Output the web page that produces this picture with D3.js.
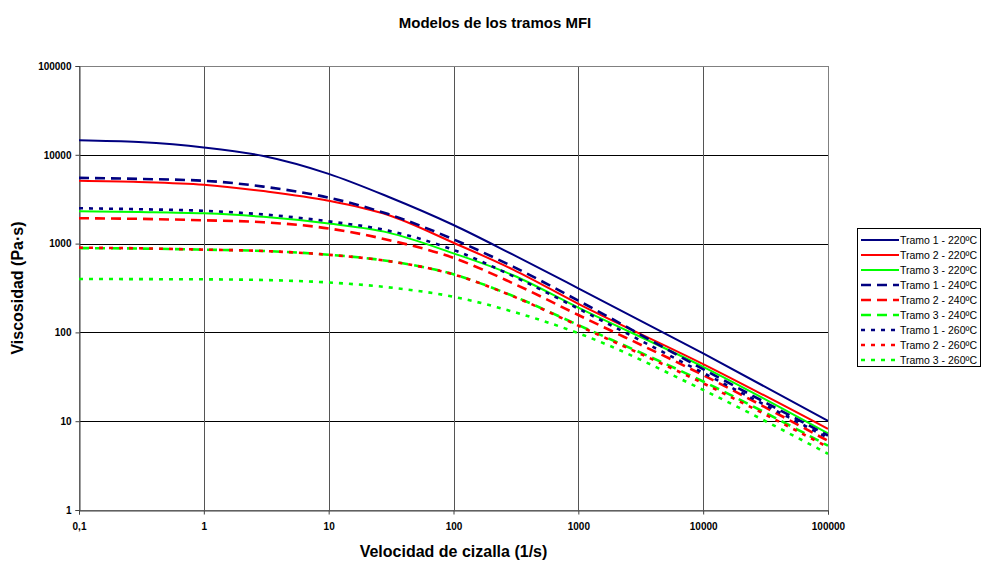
<!DOCTYPE html>
<html>
<head>
<meta charset="utf-8">
<script src="https://cdnjs.cloudflare.com/ajax/libs/d3/7.8.5/d3.min.js"></script>
<style>
    body { margin: 0; background: #fff; }
    text { font-family: "Liberation Sans", Arial, sans-serif; }
</style>
</head>
<body>
<div id="chart"></div>
<script>
var shearRates = [0.1, 0.3, 1, 3, 10, 30, 100, 300, 1000, 10000, 100000];

// viscosity (Pa·s) for each tramo / temperature
var tramo1_220 = [14600, 13900, 12100, 9700, 6100, 3370, 1620, 750, 314, 58, 10.1];
var tramo2_220 = [5100, 4950, 4600, 3900, 3040, 2100, 1023, 510, 210, 44, 8.2];
var tramo3_220 = [2310, 2270, 2190, 2000, 1680, 1330, 777, 440, 190, 41, 7.3];
var tramo1_240 = [5500, 5350, 5100, 4380, 3290, 2150, 1117, 550, 228, 38.5, 6.9];
var tramo2_240 = [1930, 1900, 1830, 1740, 1480, 1100, 690, 357, 157, 33, 6.0];
var tramo3_240 = [890, 880, 855, 826, 750, 637, 451, 257, 121, 28, 5.3];
var tramo1_260 = [2500, 2440, 2340, 2130, 1780, 1400, 850, 430, 185, 35, 6.5];
var tramo2_260 = [900, 885, 855, 826, 748, 635, 450, 255, 119, 26.7, 5.1];
var tramo3_260 = [400, 398, 396, 389, 365, 322, 252, 171, 98, 22.5, 4.3];

var seriesNames = ["Tramo 1 - 220ºC", "Tramo 2 - 220ºC", "Tramo 3 - 220ºC",
                   "Tramo 1 - 240ºC", "Tramo 2 - 240ºC", "Tramo 3 - 240ºC",
                   "Tramo 1 - 260ºC", "Tramo 2 - 260ºC", "Tramo 3 - 260ºC"];
var seriesValues = [tramo1_220, tramo2_220, tramo3_220,
                    tramo1_240, tramo2_240, tramo3_240,
                    tramo1_260, tramo2_260, tramo3_260];

var xTicks = [0.1, 1, 10, 100, 1000, 10000, 100000];
var xTickLabels = ["0,1", "1", "10", "100", "1000", "10000", "100000"];
var yTicks = [1, 10, 100, 1000, 10000, 100000];
var yTickLabels = ["1", "10", "100", "1000", "10000", "100000"];

var colors = ["#000080", "#ff0000", "#00ff00"];
var dashes = ["none", "10,6", "4,6"];

var width = 982, height = 561;
var plot = { left: 79, right: 828, top: 66, bottom: 510 };

var svg = d3.select("#chart")
    .append("svg")
    .attr("width", width)
    .attr("height", height);

var x = d3.scaleLog()
    .domain([0.1, 100000])
    .range([plot.left, plot.right]);

var y = d3.scaleLog()
    .domain([1, 100000])
    .range([plot.bottom, plot.top]);

// gridlines
svg.append("g")
    .selectAll("line")
    .data(yTicks.slice(1, -1))
    .enter().append("line")
    .attr("x1", plot.left).attr("x2", plot.right)
    .attr("y1", d => Math.round(y(d)) + 0.5)
    .attr("y2", d => Math.round(y(d)) + 0.5)
    .attr("stroke", "#000")
    .attr("stroke-width", 1);

svg.append("g")
    .selectAll("line")
    .data(xTicks.slice(1, -1))
    .enter().append("line")
    .attr("y1", plot.top).attr("y2", plot.bottom)
    .attr("x1", d => Math.round(x(d)) + 0.5)
    .attr("x2", d => Math.round(x(d)) + 0.5)
    .attr("stroke", "#555")
    .attr("stroke-width", 1);

// plot area border
svg.append("rect")
    .attr("x", plot.left + 0.5)
    .attr("y", plot.top + 0.5)
    .attr("width", plot.right - plot.left)
    .attr("height", plot.bottom - plot.top)
    .attr("fill", "none")
    .attr("stroke", "#808080");

// axes
var xAxis = svg.append("g")
    .attr("transform", "translate(0," + (plot.bottom + 0.5) + ")")
    .call(d3.axisBottom(x)
        .tickValues(xTicks)
        .tickFormat((d, i) => xTickLabels[i])
        .tickSize(4)
        .tickPadding(8));

var yAxis = svg.append("g")
    .attr("transform", "translate(" + (plot.left + 0.5) + ",0)")
    .call(d3.axisLeft(y)
        .tickValues(yTicks)
        .tickFormat((d, i) => yTickLabels[i])
        .tickSize(4)
        .tickPadding(4));

[xAxis, yAxis].forEach(function (a) {
    a.select(".domain").attr("stroke", "#404040");
    a.selectAll(".tick line").attr("stroke", "#404040");
    a.selectAll(".tick text")
        .attr("fill", "#000")
        .style("font-family", "'Liberation Sans', Arial, sans-serif")
        .style("font-weight", "bold")
        .style("font-size", "10px");
});

// curves
var line = d3.line()
    .x(d => x(d[0]))
    .y(d => y(d[1]))
    .curve(d3.curveMonotoneX);

svg.append("clipPath").attr("id", "clip")
    .append("rect")
    .attr("x", plot.left).attr("y", plot.top)
    .attr("width", plot.right - plot.left)
    .attr("height", plot.bottom - plot.top);

svg.append("g")
    .attr("clip-path", "url(#clip)")
    .selectAll("path")
    .data(seriesValues)
    .enter().append("path")
    .attr("d", vals => line(shearRates.map((s, i) => [s, vals[i]])))
    .attr("fill", "none")
    .attr("stroke", (d, i) => colors[i % 3])
    .attr("stroke-width", (d, i) => i < 3 ? 2 : 2.6)
    .attr("stroke-dasharray", (d, i) => dashes[Math.floor(i / 3)]);

// titles
svg.append("text")
    .attr("x", 495)
    .attr("y", 28)
    .attr("text-anchor", "middle")
    .style("font-weight", "bold")
    .style("font-size", "15px")
    .text("Modelos de los tramos MFI");

svg.append("text")
    .attr("x", (plot.left + plot.right) / 2)
    .attr("y", 557)
    .attr("text-anchor", "middle")
    .style("font-weight", "bold")
    .style("font-size", "16px")
    .text("Velocidad de cizalla (1/s)");

svg.append("text")
    .attr("transform", "translate(23," + ((plot.top + plot.bottom) / 2) + ")rotate(-90)")
    .attr("text-anchor", "middle")
    .style("font-weight", "bold")
    .style("font-size", "16px")
    .text("Viscosidad (Pa·s)");

// legend
var legend = svg.append("g")
    .attr("transform", "translate(857,228)");

legend.append("rect")
    .attr("x", 0.5).attr("y", 0.5)
    .attr("width", 123).attr("height", 138)
    .attr("fill", "#fff")
    .attr("stroke", "#000");

var item = legend.selectAll(".item")
    .data(seriesNames)
    .enter().append("g")
    .attr("class", "item")
    .attr("transform", (d, i) => "translate(0," + (12 + i * 15) + ")");

item.append("line")
    .attr("x1", 4).attr("x2", 42)
    .attr("y1", 0).attr("y2", 0)
    .attr("stroke", (d, i) => colors[i % 3])
    .attr("stroke-width", (d, i) => i < 3 ? 2 : 2.6)
    .attr("stroke-dasharray", (d, i) => dashes[Math.floor(i / 3)]);

item.append("text")
    .attr("x", 43)
    .attr("y", 4)
    .style("font-size", "10.5px")
    .text(d => d);
</script>
</body>
</html>
